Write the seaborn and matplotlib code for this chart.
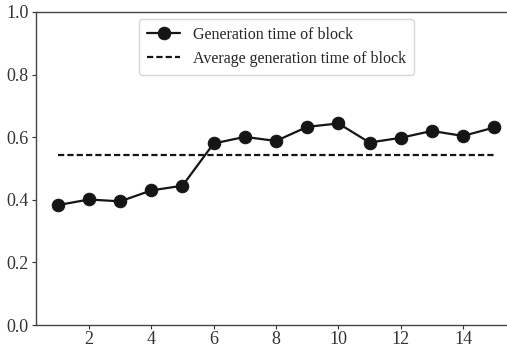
import matplotlib
matplotlib.use("Agg")
import matplotlib.pyplot as plt
import seaborn as sns
import pandas as pd

blocks = list(range(1, 16))
gen_time = [0.383, 0.401, 0.395, 0.430, 0.445, 0.580, 0.601, 0.588, 0.633, 0.644,
            0.583, 0.598, 0.620, 0.604, 0.631]
avg_time = [0.542]
labels = ["Generation time of block", "Average generation time of block"]

sns.set_style("ticks")
plt.rcParams['font.family'] = ['Liberation Serif', 'DejaVu Serif']

fig = plt.figure(figsize=(5.07, 3.49), dpi=100)
ax = fig.add_axes([36/507, 24/349, 480/507, 313/349])

df = pd.DataFrame({"block": blocks, "time": gen_time})
sns.lineplot(data=df, x="block", y="time", ax=ax, color="#151515", marker="o",
             markersize=9, linewidth=1.6, markeredgecolor="#151515",
             label=labels[0])
sns.lineplot(x=[blocks[0], blocks[-1]], y=[avg_time[0]] * 2, ax=ax,
             color="#151515", linewidth=1.6, label=labels[1])
ax.lines[-1].set_dashes((2.8, 1.4))

ax.set_xlim(0.3, 15.7)
ax.set_ylim(0, 1.0)
ax.set_xticks([2, 4, 6, 8, 10, 12, 14])
ax.set_yticks([0.0, 0.2, 0.4, 0.6, 0.8, 1.0])
ax.set_xlabel("")
ax.set_ylabel("")
ax.tick_params(labelsize=13, colors="#333333", length=3, pad=2.5)
ax.tick_params(axis="x", pad=1.0)
for s in ax.spines.values():
    s.set_color("#444444")
    s.set_linewidth(1.0)

ax.legend(loc="upper center", bbox_to_anchor=(0.501, 1.004), fontsize=11.5,
          frameon=True, handlelength=2.1, borderpad=0.5)

fig.savefig("out.png", dpi=100)
